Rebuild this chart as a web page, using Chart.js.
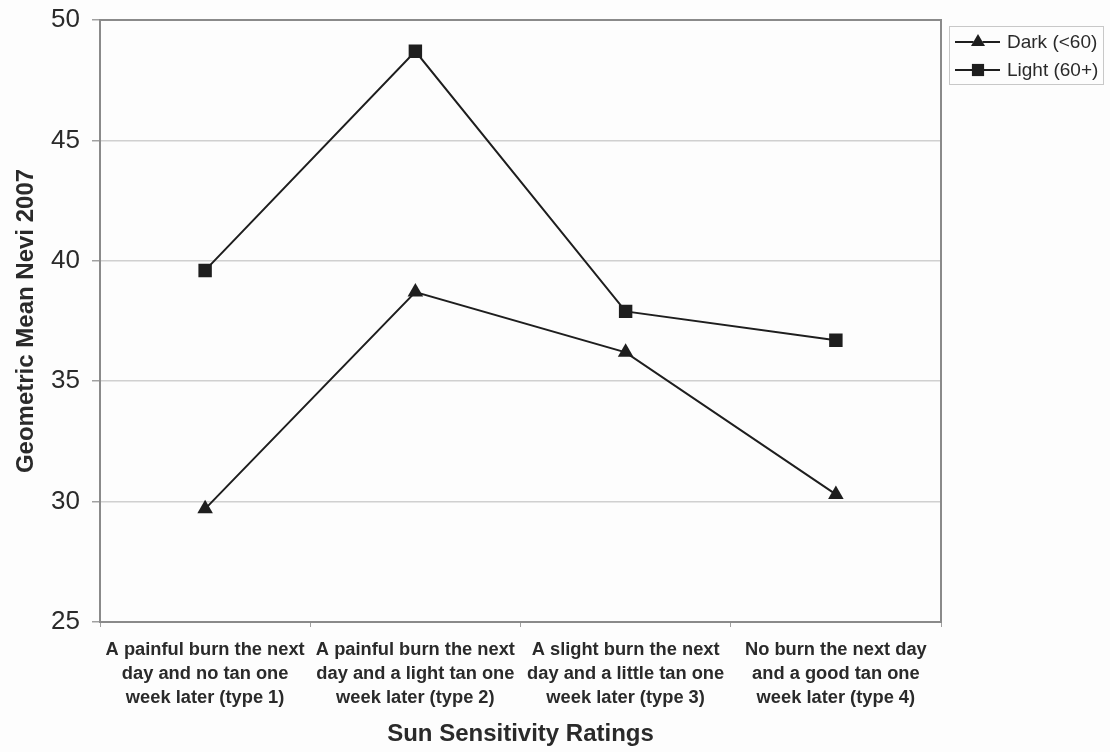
<!DOCTYPE html>
<html>
<head>
<meta charset="utf-8">
<script src="https://cdn.jsdelivr.net/npm/chart.js@4.4.1/dist/chart.umd.min.js"></script>
<style>
  html, body { margin: 0; padding: 0; background: #fdfdfd; }
  #wrap { width: 1110px; height: 752px; position: relative; }
</style>
</head>
<body>
<div id="wrap"><canvas id="chart"></canvas></div>
<script>
// data
const categories = [
  ["A painful burn the next", "day and no tan one", "week later (type 1)"],
  ["A painful burn the next", "day and a light tan one", "week later (type 2)"],
  ["A slight burn the next", "day and a little tan one", "week later (type 3)"],
  ["No burn the next day", "and a good tan one", "week later (type 4)"]
];
const darkValues = [29.7, 38.7, 36.2, 30.3];
const lightValues = [39.6, 48.7, 37.9, 36.7];
const seriesNames = ["Dark (<60)", "Light (60+)"];
const yTicks = [25, 30, 35, 40, 45, 50];

const ink = "#1e1e1e";
const textColor = "#2a2a2a";

// frame round the plot area
const framePlugin = {
  id: "frame",
  afterDatasetsDraw(chart) {
    const a = chart.chartArea, ctx = chart.ctx;
    ctx.save();
    ctx.strokeStyle = "#8a8a8a";
    ctx.lineWidth = 2;
    ctx.strokeRect(a.left, a.top, a.right - a.left, a.bottom - a.top);
    ctx.restore();
  }
};

// excel style legend box: line + marker + label
const legendPlugin = {
  id: "boxLegend",
  afterDraw(chart) {
    const ctx = chart.ctx;
    const x0 = 949, y0 = 26, w = 154, h = 58;
    ctx.save();
    ctx.fillStyle = "#fdfdfd";
    ctx.fillRect(x0, y0, w, h);
    ctx.strokeStyle = "#c8c8c8";
    ctx.lineWidth = 1;
    ctx.strokeRect(x0 + 0.5, y0 + 0.5, w, h);
    chart.data.datasets.forEach((ds, i) => {
      const cy = y0 + 16 + i * 28;
      ctx.strokeStyle = ink;
      ctx.lineWidth = 2;
      ctx.beginPath();
      ctx.moveTo(955, cy);
      ctx.lineTo(1000, cy);
      ctx.stroke();
      Chart.helpers.drawPoint(ctx, { pointStyle: ds.pointStyle, radius: ds.pointRadius * 0.9, rotation: 0 }, 978, cy);
      ctx.fillStyle = ink;
      ctx.fill();
      ctx.fillStyle = textColor;
      ctx.font = "19px 'Liberation Sans', Arial, sans-serif";
      ctx.textBaseline = "middle";
      ctx.fillText(ds.label, 1007, cy + 1);
    });
    ctx.restore();
  }
};

new Chart(document.getElementById("chart"), {
  type: "line",
  data: {
    labels: categories,
    datasets: [
      {
        label: seriesNames[0],
        data: darkValues,
        borderColor: ink,
        backgroundColor: ink,
        borderWidth: 2,
        pointStyle: "triangle",
        pointRadius: 9,
        pointBorderWidth: 0,
        tension: 0
      },
      {
        label: seriesNames[1],
        data: lightValues,
        borderColor: ink,
        backgroundColor: ink,
        borderWidth: 2,
        pointStyle: "rect",
        pointRadius: 9.5,
        pointBorderWidth: 0,
        tension: 0
      }
    ]
  },
  options: {
    responsive: true,
    maintainAspectRatio: false,
    animation: false,
    layout: { padding: { top: 20, right: 169, bottom: 0, left: 0 } },
    plugins: {
      legend: { display: false },
      tooltip: { enabled: false }
    },
    scales: {
      x: {
        offset: true,
        grid: { offset: true, drawOnChartArea: false, drawTicks: true, tickLength: 5, tickColor: "#a0a0a0" },
        border: { display: false },
        ticks: {
          color: textColor,
          font: { family: "'Liberation Sans', Arial, sans-serif", size: 18.3, weight: "bold", lineHeight: 1.31 },
          padding: 11,
          maxRotation: 0,
          autoSkip: false
        },
        title: {
          display: true,
          text: "Sun Sensitivity Ratings",
          color: textColor,
          font: { family: "'Liberation Sans', Arial, sans-serif", size: 24, weight: "bold" },
          padding: { top: 0, bottom: 3 }
        },
        afterFit(s) { s.height = 130; s.paddingLeft = 0; s.paddingRight = 0; }
      },
      y: {
        min: 25,
        max: 50,
        afterBuildTicks(s) { s.ticks = yTicks.map(v => ({ value: v })); },
        grid: { color: "#d0d0d0", lineWidth: 1.5, tickLength: 8, tickColor: "#a0a0a0" },
        border: { display: false },
        ticks: {
          color: textColor,
          font: { family: "'Liberation Sans', Arial, sans-serif", size: 26 },
          padding: 12
        },
        title: {
          display: true,
          text: "Geometric Mean Nevi 2007",
          color: textColor,
          font: { family: "'Liberation Sans', Arial, sans-serif", size: 24, weight: "bold" },
          padding: { top: 12, bottom: 0 }
        },
        afterFit(s) { s.width = 100; s.paddingTop = 0; s.paddingBottom = 0; }
      }
    }
  },
  plugins: [framePlugin, legendPlugin]
});
</script>
</body>
</html>
